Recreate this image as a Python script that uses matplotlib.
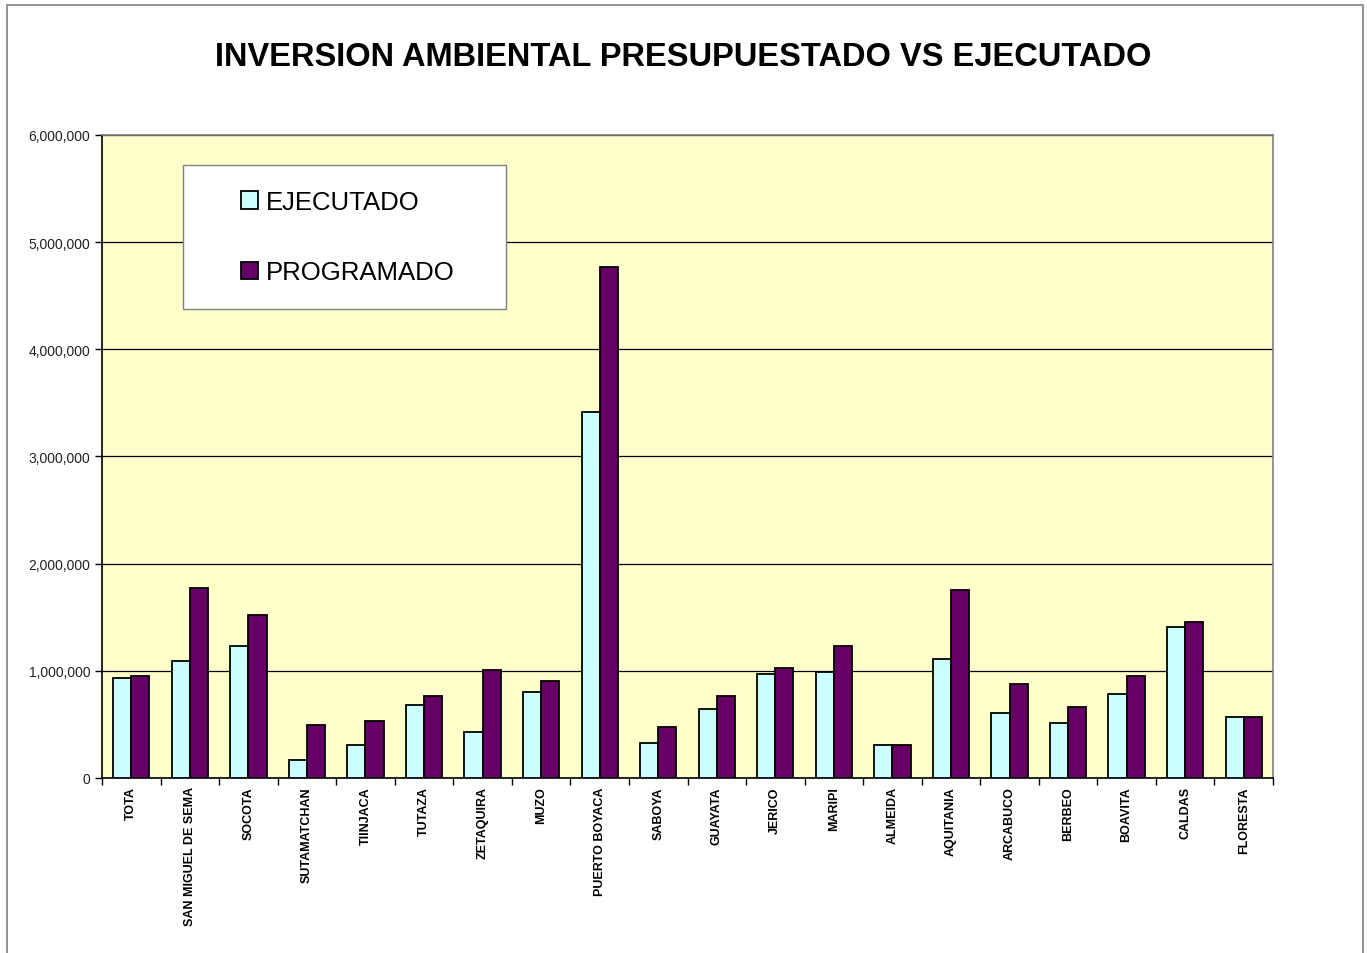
import matplotlib
matplotlib.use("Agg")
import matplotlib.pyplot as plt
from matplotlib.patches import Rectangle
from matplotlib.ticker import FuncFormatter, FixedLocator
import numpy as np

municipios = ["TOTA", "SAN MIGUEL DE SEMA", "SOCOTA", "SUTAMATCHAN", "TIINJACA",
              "TUTAZA", "ZETAQUIRA", "MUZO", "PUERTO BOYACA", "SABOYA",
              "GUAYATA", "JERICO", "MARIPI", "ALMEIDA", "AQUITANIA",
              "ARCABUCO", "BERBEO", "BOAVITA", "CALDAS", "FLORESTA"]
ejecutado = [930000, 1095000, 1230000, 170000, 305000,
             680000, 432000, 798000, 3415000, 325000,
             644000, 970000, 985000, 305000, 1115000,
             608000, 517000, 780000, 1405000, 568000]
programado = [952000, 1770000, 1525000, 498000, 533000,
              763000, 1005000, 908000, 4765000, 476000,
              763000, 1028000, 1235000, 305000, 1750000,
              873000, 662000, 955000, 1460000, 568000]

plt.rcParams["font.family"] = ["Liberation Sans", "DejaVu Sans"]

W, H = 1367, 954
fig = plt.figure(figsize=(W / 100, H / 100), dpi=100)
# marco exterior del grafico
fig.patches.append(Rectangle((7 / W, -0.05), 1356 / W, 1.05 - 6 / H,
                             transform=fig.transFigure, fill=False,
                             edgecolor="#808080", linewidth=1.2))

x0, y0, pw, ph = 102, 779, 1171, 643
ax = fig.add_axes([x0 / W, 1 - y0 / H, pw / W, ph / H])
ax.set_facecolor("#FFFFCC")

x = np.arange(len(municipios))
w = 0.31
ax.bar(x - w / 2, ejecutado, w, color="#CCFFFF", edgecolor="black",
       linewidth=1.3, label="EJECUTADO", zorder=3)
ax.bar(x + w / 2, programado, w, color="#660066", edgecolor="black",
       linewidth=1.3, label="PROGRAMADO", zorder=3)

ax.set_xlim(-0.5, len(municipios) - 0.5)
ax.set_ylim(0, 6000000)
ax.set_yticks(np.arange(0, 6000001, 1000000))
ax.yaxis.set_major_formatter(FuncFormatter(lambda v, p: f"{int(v):,}"))
ax.yaxis.grid(True, color="black", linewidth=0.9, zorder=1)
ax.tick_params(axis="y", labelsize=10, length=5, width=1, colors="black",
               labelcolor="#222222")

# marcas entre categorias, etiquetas centradas
ax.xaxis.set_major_locator(FixedLocator(np.arange(-0.5, len(municipios), 1)))
ax.xaxis.set_major_formatter(FuncFormatter(lambda v, p: ""))
ax.xaxis.set_minor_locator(FixedLocator(x))
ax.set_xticklabels(municipios, minor=True, rotation=90, fontsize=9,
                   fontweight="bold", va="top", ha="center")
ax.tick_params(axis="x", which="major", length=5, width=1)
ax.tick_params(axis="x", which="minor", length=0, pad=6)

for s in ["top", "right"]:
    ax.spines[s].set_color("#808080")
    ax.spines[s].set_linewidth(1.2)
for s in ["left", "bottom"]:
    ax.spines[s].set_color("black")
    ax.spines[s].set_linewidth(1.2)

fig.text(0.5, 1 - 57 / H, "INVERSION AMBIENTAL PRESUPUESTADO VS EJECUTADO",
         ha="center", va="center", fontsize=23.5, fontweight="bold")

# caja de la leyenda
ax.add_patch(Rectangle(((183 - x0) / pw, (y0 - 310) / ph), 323 / pw, 144 / ph,
                       transform=ax.transAxes, facecolor="white",
                       edgecolor="#808080", linewidth=1.0, zorder=5))
leg = ax.legend(loc="upper left", bbox_to_anchor=((241 - x0) / pw, (y0 - 191) / ph),
                fontsize=18.5, frameon=False, borderpad=0, labelspacing=1.8,
                handlelength=0.65, handleheight=0.65, handletextpad=0.3,
                borderaxespad=0)
leg.set_zorder(6)

fig.savefig("out.png", dpi=100)
